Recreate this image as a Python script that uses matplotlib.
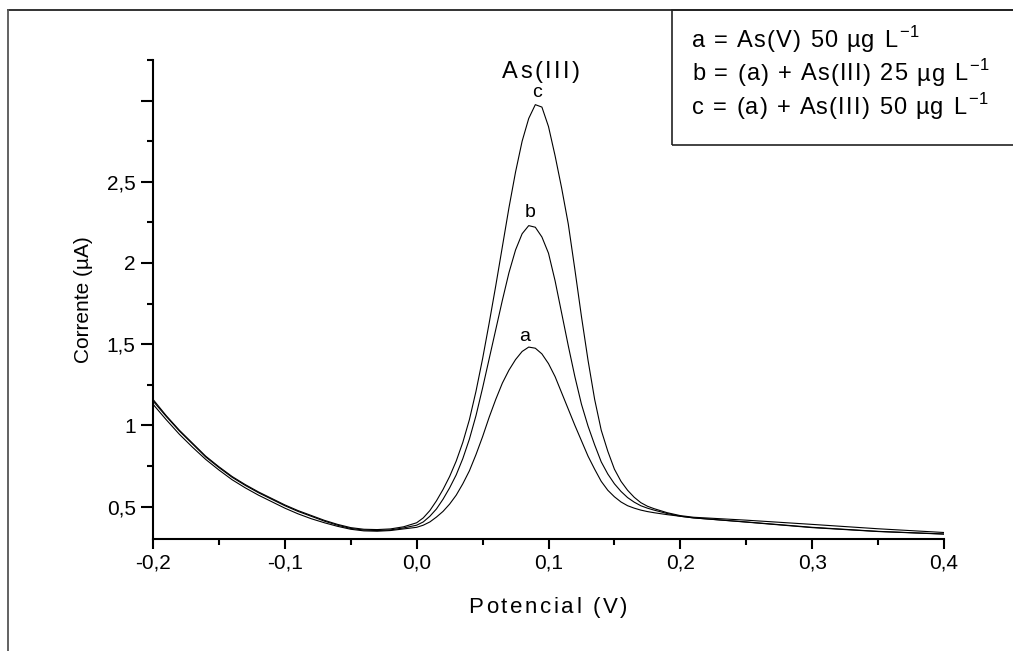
import matplotlib
matplotlib.use("Agg")
import matplotlib.pyplot as plt
from matplotlib.lines import Line2D
from matplotlib.patches import Rectangle
from matplotlib.font_manager import FontProperties
from matplotlib.ticker import FixedLocator, FixedFormatter, NullFormatter

plt.rcParams['font.family'] = ['Liberation Sans', 'DejaVu Sans']

# Potential (V)
potencial = [-0.20, -0.19, -0.18, -0.17, -0.16, -0.15, -0.14, -0.13, -0.12, -0.11,
             -0.10, -0.09, -0.08, -0.07, -0.06, -0.05, -0.04, -0.03, -0.02, -0.01,
             0.000, 0.005, 0.010, 0.015, 0.020, 0.025, 0.030, 0.035, 0.040, 0.045,
             0.050, 0.055, 0.060, 0.065, 0.070, 0.075, 0.080, 0.085, 0.090, 0.095,
             0.100, 0.105, 0.110, 0.115, 0.120, 0.125, 0.130, 0.135, 0.140, 0.145,
             0.150, 0.155, 0.160, 0.165, 0.170, 0.175, 0.180, 0.190, 0.200, 0.210,
             0.250, 0.300, 0.350, 0.400]

# Current (uA) for each voltammogram
corrente_a = [1.13, 1.035, 0.945, 0.865, 0.79, 0.725, 0.665, 0.615, 0.57, 0.53,
              0.49, 0.455, 0.425, 0.40, 0.378, 0.36, 0.35, 0.348, 0.352, 0.362,
              0.372, 0.385, 0.405, 0.435, 0.47, 0.515, 0.57, 0.64, 0.72, 0.82,
              0.93, 1.05, 1.16, 1.26, 1.34, 1.405, 1.455, 1.482, 1.475, 1.44,
              1.38, 1.30, 1.20, 1.10, 1.00, 0.905, 0.81, 0.73, 0.655, 0.60,
              0.56, 0.528, 0.505, 0.49, 0.478, 0.469, 0.462, 0.45, 0.44, 0.43,
              0.404, 0.37, 0.346, 0.33]

corrente_b = [1.15, 1.055, 0.965, 0.885, 0.805, 0.74, 0.68, 0.63, 0.585, 0.545,
              0.505, 0.47, 0.44, 0.41, 0.385, 0.365, 0.355, 0.352, 0.356, 0.368,
              0.385, 0.405, 0.44, 0.485, 0.545, 0.615, 0.695, 0.795, 0.915, 1.06,
              1.23, 1.41, 1.59, 1.77, 1.94, 2.08, 2.18, 2.23, 2.22, 2.16,
              2.06, 1.89, 1.69, 1.49, 1.30, 1.13, 0.995, 0.88, 0.775, 0.70,
              0.64, 0.593, 0.555, 0.527, 0.505, 0.49, 0.478, 0.457, 0.44, 0.43,
              0.405, 0.372, 0.347, 0.331]

corrente_c = [1.16, 1.06, 0.97, 0.89, 0.81, 0.745, 0.685, 0.635, 0.59, 0.55,
              0.51, 0.475, 0.445, 0.415, 0.39, 0.37, 0.36, 0.358, 0.362, 0.375,
              0.40, 0.43, 0.475, 0.535, 0.605, 0.685, 0.78, 0.895, 1.035, 1.21,
              1.41, 1.63, 1.86, 2.10, 2.34, 2.56, 2.75, 2.89, 2.975, 2.96,
              2.84, 2.66, 2.46, 2.24, 1.96, 1.67, 1.40, 1.16, 0.97, 0.84,
              0.73, 0.655, 0.60, 0.557, 0.524, 0.502, 0.487, 0.462, 0.444, 0.434,
              0.416, 0.39, 0.363, 0.34]

x_ticks = [-0.2, -0.1, 0.0, 0.1, 0.2, 0.3, 0.4]
x_tick_labels = ['-0,2', '-0,1', '0,0', '0,1', '0,2', '0,3', '0,4']
x_minor = [-0.15, -0.05, 0.05, 0.15, 0.25, 0.35]
y_ticks = [0.5, 1.0, 1.5, 2.0, 2.5, 3.0]
y_tick_labels = ['0,5', '1', '1,5', '2', '2,5', '']
y_minor = [0.75, 1.25, 1.75, 2.25, 2.75, 3.25]

legend_lines = ['a = As(V) 50 µg L', 'b = (a) + As(III) 25 µg L', 'c = (a) + As(III) 50 µg L']
legend_exponent = '\u22121'

W, H = 1013, 651
fig = plt.figure(figsize=(W / 100, H / 100), dpi=100)
ax = fig.add_axes([153 / W, 112 / H, 791 / W, 479 / H])
renderer = fig.canvas.get_renderer()

for y in (corrente_a, corrente_b, corrente_c):
    ax.plot(potencial, y, color='black', lw=0.8, solid_joinstyle='round')

ax.set_xlim(-0.2, 0.4)
ax.set_ylim(0.3, 3.25)
for side in ('top', 'right'):
    ax.spines[side].set_visible(False)
for side in ('left', 'bottom'):
    ax.spines[side].set_linewidth(1.5)

ax.xaxis.set_major_locator(FixedLocator(x_ticks))
ax.xaxis.set_major_formatter(FixedFormatter(x_tick_labels))
ax.xaxis.set_minor_locator(FixedLocator(x_minor))
ax.yaxis.set_major_locator(FixedLocator(y_ticks))
ax.yaxis.set_major_formatter(FixedFormatter(y_tick_labels))
ax.yaxis.set_minor_locator(FixedLocator(y_minor))
ax.yaxis.set_minor_formatter(NullFormatter())
ax.tick_params(axis='x', which='major', length=7.5, width=1.5, labelsize=15, pad=3)
ax.tick_params(axis='y', which='major', length=8.5, width=1.5, labelsize=15, pad=4)
ax.tick_params(axis='both', which='minor', length=4.3, width=1.5)

ax.set_ylabel('Corrente (µA)', fontsize=15, labelpad=10)


def tracked_text(x_px, y_px, s, size, track, ha='left'):
    """Draw s character by character with extra spacing (pixels); y_px is the baseline."""
    prop = FontProperties(family=['Liberation Sans'], size=size)
    adv = [0.0] + [renderer.get_text_width_height_descent(s[:i], prop, ismath=False)[0]
                   for i in range(1, len(s) + 1)]
    total = adv[-1] + track * (len(s) - 1)
    x0 = x_px - total / 2 if ha == 'center' else x_px
    for i, ch in enumerate(s):
        if ch != ' ':
            fig.text((x0 + adv[i] + track * i) / W, 1 - y_px / H, ch,
                     fontproperties=prop, ha='left', va='baseline')
    return x0 + total


# peak annotations
tracked_text(541, 78, 'As(III)', 17, 2.5, ha='center')
ax.text(0.091, 3.05, 'c', ha='center', va='center', fontsize=14)
ax.text(0.086, 2.31, 'b', ha='center', va='center', fontsize=14)
ax.text(0.082, 1.55, 'a', ha='center', va='center', fontsize=14)

# x axis title
tracked_text(548, 613, 'Potencial (V)', 16, 2.6, ha='center')

# page frame and legend box
fig.add_artist(Line2D([8 / W, 1.0], [1 - 10 / H, 1 - 10 / H], transform=fig.transFigure,
                      color='#222222', lw=1.3))
fig.add_artist(Line2D([8 / W, 8 / W], [0.0, 1 - 10 / H], transform=fig.transFigure,
                      color='#555555', lw=1.3))
fig.add_artist(Rectangle((672 / W, 1 - 145 / H), (W + 10 - 672) / W, 135 / H,
                         transform=fig.transFigure, fill=False, edgecolor='#222222', lw=1.2))
for i, s in enumerate(legend_lines):
    base = 47 + 33.5 * i
    end = tracked_text(692, base, s, 17, 1.3)
    tracked_text(end + 2, base - 10, legend_exponent, 12, 0.5)

fig.savefig('out.png', dpi=100)
